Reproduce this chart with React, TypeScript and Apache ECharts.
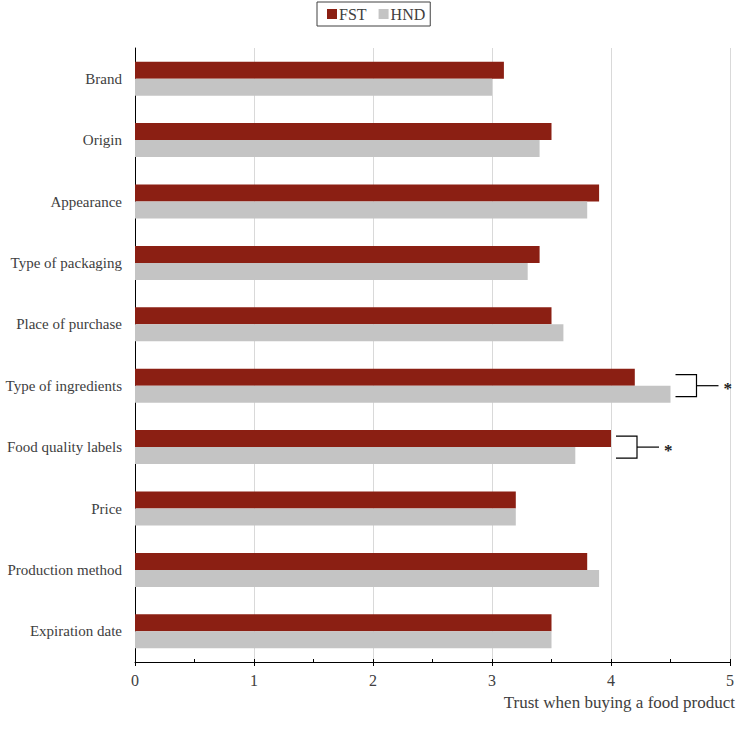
import React, { useEffect, useRef } from "react";
import * as echarts from "echarts";

// Trust attributes, listed top to bottom
const categories = [
  "Brand",
  "Origin",
  "Appearance",
  "Type of packaging",
  "Place of purchase",
  "Type of ingredients",
  "Food quality labels",
  "Price",
  "Production method",
  "Expiration date",
];

const fstValues = [3.1, 3.5, 3.9, 3.4, 3.5, 4.2, 4.0, 3.2, 3.8, 3.5];
const hndValues = [3.0, 3.4, 3.8, 3.3, 3.6, 4.5, 3.7, 3.2, 3.9, 3.5];

// Attributes with a significant FST/HND difference
const significant = ["Type of ingredients", "Food quality labels"];

const xTicks = [0, 1, 2, 3, 4, 5];

const FONT = "'Liberation Serif', 'Times New Roman', serif";
const TEXT = "#404040";

export default function App() {
  const ref = useRef<HTMLDivElement>(null);

  useEffect(() => {
    if (!ref.current) return;
    const chart = echarts.init(ref.current, undefined, { renderer: "svg" });

    const sigData = significant.map((c) => {
      const i = categories.indexOf(c);
      return [Math.max(fstValues[i], hndValues[i]), i];
    });

    chart.setOption({
      animation: false,
      textStyle: { fontFamily: FONT, color: TEXT },
      legend: {
        data: ["FST", "HND"],
        left: 317,
        top: 2,
        icon: "rect",
        itemWidth: 10,
        itemHeight: 10,
        itemGap: 12,
        padding: [4, 5, 4, 10],
        borderColor: "#404040",
        borderWidth: 1,
        textStyle: { fontFamily: FONT, fontSize: 16, color: TEXT, padding: [0, 0, 0, -3] },
      },
      grid: { left: 135, right: 22, top: 48, bottom: 68 },
      xAxis: [
        {
          type: "value",
          min: xTicks[0],
          max: xTicks[xTicks.length - 1],
          interval: 1,
          axisLine: { show: true, lineStyle: { color: "#000", width: 1 } },
          axisTick: { show: true, inside: false, length: 4, lineStyle: { color: "#000" } },
          axisLabel: { fontFamily: FONT, fontSize: 16, color: TEXT, margin: 10 },
          splitLine: { show: true, lineStyle: { color: "#d9d9d9", width: 1 } },
          name: "Trust when buying a food product",
          nameLocation: "end",
          nameGap: 5,
          nameTextStyle: {
            fontFamily: FONT,
            fontSize: 17,
            color: TEXT,
            align: "right",
            verticalAlign: "top",
            padding: [32, 0, 0, 0],
          },
        },
        {
          type: "value",
          position: "bottom",
          min: 0,
          max: 5,
          interval: 0.5,
          axisLine: { show: false },
          axisTick: { show: true, inside: true, length: 3, lineStyle: { color: "#000" } },
          axisLabel: { show: false },
          splitLine: { show: false },
        },
      ],
      yAxis: {
        type: "category",
        data: categories,
        inverse: true,
        axisLine: { show: true, lineStyle: { color: "#000", width: 1 } },
        axisTick: { show: false },
        axisLabel: { fontFamily: FONT, fontSize: 15, color: TEXT, margin: 13 },
        splitLine: { show: false },
      },
      series: [
        {
          name: "FST",
          type: "bar",
          data: fstValues,
          barWidth: 17,
          barGap: "0%",
          itemStyle: { color: "#8b1f13" },
        },
        {
          name: "HND",
          type: "bar",
          data: hndValues,
          barWidth: 17,
          barGap: "0%",
          itemStyle: { color: "#c4c4c4" },
        },
        {
          name: "significance",
          type: "custom",
          data: sigData,
          encode: { x: 0, y: 1 },
          z: 5,
          silent: true,
          renderItem: (params: any, api: any) => {
            const pt = api.coord([api.value(0), api.value(1)]);
            const x0 = pt[0] + 5;
            const x1 = x0 + 21;
            const x2 = x1 + 22;
            const mid = pt[1];
            const top = mid - 11;
            const bottom = mid + 11;
            const stroke = { stroke: "#000", lineWidth: 1.2, fill: null };
            return {
              type: "group",
              children: [
                {
                  type: "polyline",
                  shape: { points: [[x0, top], [x1, top], [x1, bottom], [x0, bottom]] },
                  style: stroke,
                },
                {
                  type: "line",
                  shape: { x1: x1, y1: mid, x2: x2, y2: mid },
                  style: stroke,
                },
                {
                  type: "text",
                  style: {
                    text: "*",
                    x: x2 + 5,
                    y: mid + 3,
                    fontFamily: FONT,
                    fontSize: 17,
                    fontWeight: "bold",
                    fill: "#222",
                    align: "left",
                    verticalAlign: "middle",
                  },
                },
              ],
            };
          },
        },
      ],
    });

    return () => chart.dispose();
  }, []);

  return (
    <div
      ref={ref}
      style={{ position: "absolute", left: 0, top: 0, width: 752, height: 730 }}
    />
  );
}
